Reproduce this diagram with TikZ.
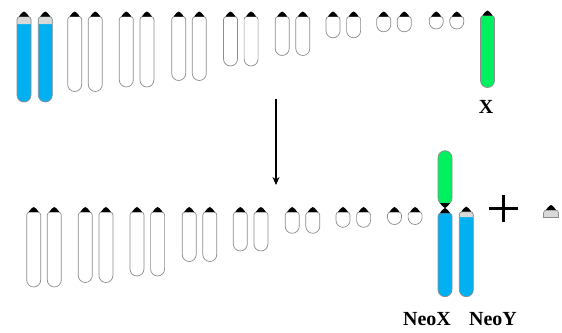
\documentclass[tikz,border=0pt]{standalone}
\usepackage{fontspec}
\setmainfont{Liberation Serif}
\usetikzlibrary{arrows.meta}

\definecolor{chromblue}{HTML}{00B0F0}
\definecolor{chromgreen}{HTML}{00F060}
\definecolor{bandgray}{HTML}{D9D9D9}
\definecolor{edgegray}{HTML}{8C8C8C}

\tikzset{
    edge/.style={draw=edgegray, line width=0.7pt},
    lbl/.style={font=\bfseries\fontsize{20}{24}\selectfont, inner sep=0pt, anchor=base},
    % black centromere cap sitting on top of an arm
    pics/cap/.style={code={
        \fill (-5,0) .. controls (-3,3) and (-1,5) .. (0,5) .. controls (1,5) and (3,3) .. (5,0) -- cycle;
    }},
    % #1 length, #2 body colour, #3 band colour, #4 band height
    pics/chromo/.style n args={4}{code={
        \path[fill=#2] (-7,-3) arc (180:90:3) -- (4,0) arc (90:0:3) -- (7,-#1+7) arc (0:-180:7) -- cycle;
        \path[fill=#3] (-7,-3) arc (180:90:3) -- (4,0) arc (90:0:3) -- (7,-#4) -- (-7,-#4) -- cycle;
        \draw[edge] (-7,-3) arc (180:90:3) -- (4,0) arc (90:0:3) -- (7,-#1+7) arc (0:-180:7) -- cycle;
        \pic {cap};
    }}
}

\begin{document}
\begin{tikzpicture}[x=1pt, y=1pt]
    \useasboundingbox (0,0) rectangle (562,-332);

    % before the fusion
    \pic at (24,-16.5) {chromo={85.5}{chromblue}{bandgray}{7.5}};
    \pic at (45.3,-16.5) {chromo={85.5}{chromblue}{bandgray}{7.5}};
    \pic at (487.5,-15.5) {chromo={72}{chromgreen}{none}{0}};
    \node[lbl] (xlab) at (486,-113) {X};

    % autosomes, top row and bottom row
    \foreach \xa/\xb/\l in {74.7/33.7/75, 126.3/85.3/70.5, 178.7/137/64, 230.5/189.2/49.5,
                            282.2/240.3/39, 333/292.2/21.3, 383.7/343/15.3, 436.2/394.5/12.5} {
        \pic at (\xa,-16.5) {chromo={\l}{white}{none}{0}};
        \pic at (\xa+20.6,-16.5) {chromo={\l}{white}{none}{0}};
        \pic at (\xb,-212) {chromo={\l}{white}{none}{0}};
        \pic at (\xb+20.6,-212) {chromo={\l}{white}{none}{0}};
    }

    \coordinate (from) at (276,-99);
    \coordinate (to) at (276,-185);
    \draw[-{Stealth[length=8pt, width=7pt]}, line width=1.1pt] (from) -- (to);

    % after the fusion
    \draw[edge, fill=chromgreen, rounded corners=7pt] (438,-150.7) rectangle (452,-205);
    \pic at (445,-213) {chromo={83.7}{chromblue}{none}{0}};
    \pic[yscale=-1] at (445,-203) {cap};
    \pic at (466.3,-211.7) {chromo={85}{chromblue}{bandgray}{5.5}};

    \draw[line width=3.2pt] (489,-208.5) -- (518,-208.5) (503.5,-195) -- (503.5,-222);

    \draw[edge, fill=bandgray] (543.5,-217.5) -- (543.5,-213) arc (180:90:3) -- (555.5,-210) arc (90:0:3) -- (558.5,-217.5) -- cycle;
    \pic at (551,-210) {cap};

    \node[lbl] (neox) at (427,-325) {NeoX};
    \node[lbl] (neoy) at (493,-325) {NeoY};
\end{tikzpicture}
\end{document}
